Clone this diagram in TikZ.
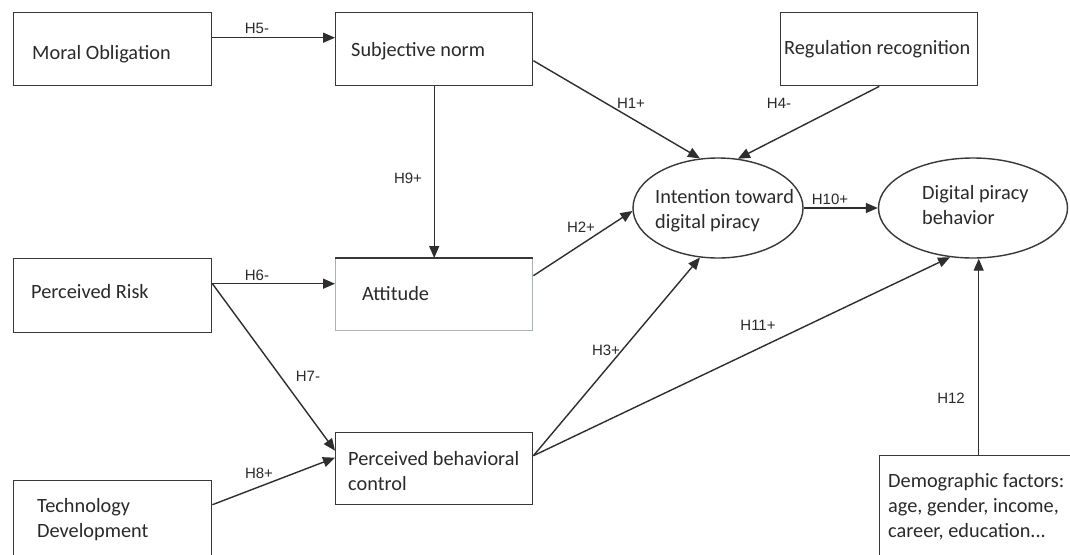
\documentclass[tikz,border=0pt]{standalone}
\usepackage{fontspec}
\setmainfont{Carlito}
\newfontfamily\labfont{Liberation Sans}
\usetikzlibrary{arrows.meta,shapes.geometric,calc}
\definecolor{linec}{HTML}{2E2E2E}
\definecolor{boxc}{HTML}{383838}
\definecolor{attc}{HTML}{A9B1BE}
\definecolor{textc}{HTML}{2A2A2A}
\begin{document}
\begin{tikzpicture}[x=1pt,y=-1pt,
  edge/.style={draw=linec, line width=1.4pt, -{Triangle[length=12pt,width=10pt]}},
  box/.style={draw=boxc, line width=1.4pt, minimum width=198pt, inner sep=0pt, anchor=north west},
  oval/.style={ellipse, draw=boxc, line width=1.4pt, inner sep=0pt},
  txt/.style={font=\fontsize{20.3}{25}\selectfont, text=textc, inner sep=0pt, anchor=base west, align=left},
  hyp/.style={font=\labfont\fontsize{15}{17}\selectfont, text=textc, inner sep=0pt}]
\fill[white] (0,0) rectangle (1070,554);
\useasboundingbox (0,0) rectangle (1070,554);
\clip (0,0) rectangle (1070,554);

% rectangular constructs
\node[box, minimum height=73pt] (mo) at (13,12) {};
\node[box, minimum width=197pt, minimum height=73pt] (sn) at (335,12) {};
\node[box, minimum width=197pt, minimum height=73pt] (rr) at (780,12) {};
\node[box, minimum height=74pt] (pr) at (13,258) {};
\node[box, draw=attc, minimum width=197pt, minimum height=72pt] (att) at (335,258) {};
\draw[boxc, line width=1.4pt] (att.north west) -- (att.north east);
\node[box, minimum width=197pt, minimum height=72pt] (pbc) at (335,432) {};
\node[box, minimum height=80pt] (td) at (13,480) {};
\node[box, minimum height=105pt] (demo) at (879,455) {};

% outcome ellipses
\node[oval, minimum width=170pt, minimum height=100pt] (int) at (718,208) {};
\node[oval, minimum width=189pt, minimum height=100pt] (dpb) at (973,208) {};

% construct names (multi-line names sit on the baseline of their last line)
\node[txt] (mo-t) at (32,59) {Moral Obligation};
\node[txt] (sn-t) at (351,56) {Subjective norm};
\node[txt] (rr-t) at (784,54) {Regulation recognition};
\node[txt] (pr-t) at (31,298) {Perceived Risk};
\node[txt] (att-t) at (362,300) {Attitude};
\node[txt] (pbc-t) at (348,490) {Perceived behavioral\\control};
\node[txt] (td-t) at (37,537) {Technology\\Development};
\node[txt] (int-t) at (655,228) {Intention toward\\digital piracy};
\node[txt] (dpb-t) at (922,224) {Digital piracy\\behavior};
\node[txt] (demo-t) at (888,537) {Demographic factors:\\age, gender, income,\\career, education...};

% hypothesised paths
\draw[edge] ([yshift=11.5pt]mo.east) -- ([yshift=11.5pt]mo.east -| sn.west);
\draw[edge] (sn.south) -- (att.north);
\draw[edge] ([yshift=12pt]pr.east) -- ([yshift=12pt]pr.east -| att.west);
\draw[edge] ([yshift=12pt]pr.east) -- ([yshift=18pt]pbc.west);
\draw[edge] ([yshift=16pt]td.east) -- ([yshift=11pt]pbc.west);
\draw[edge] ([yshift=-11.5pt]sn.east) -- (int.110);
\draw[edge] (rr.south) -- (int.68);
\draw[edge] ([yshift=19pt]att.east) -- (int.182);
\draw[edge] (int.east) -- (dpb.west);
\draw[edge] ([yshift=13pt]pbc.east) -- (int.250);
\draw[edge] ([yshift=13pt]pbc.east) -- (dpb.245);
\draw[edge] (demo.north) -- (demo.north |- dpb.south);

% hypothesis labels
\node[hyp] (h5) at (257,28) {H5-};
\node[hyp] (h9) at (408,178) {H9+};
\node[hyp] (h6) at (257,275) {H6-};
\node[hyp] (h7) at (308,376) {H7-};
\node[hyp] (h8) at (259,473) {H8+};
\node[hyp] (h1) at (631,103) {H1+};
\node[hyp] (h4) at (779,103) {H4-};
\node[hyp] (h2) at (581,227) {H2+};
\node[hyp] (h10) at (830,199) {H10+};
\node[hyp] (h3) at (606,350) {H3+};
\node[hyp] (h11) at (758,325) {H11+};
\node[hyp] (h12) at (951,398) {H12};
\end{tikzpicture}
\end{document}
